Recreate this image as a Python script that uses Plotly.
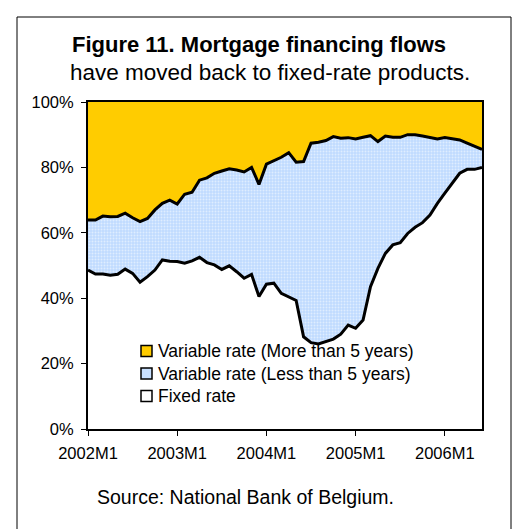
import plotly.graph_objects as go

# Monthly periods, 2002M1 .. 2006M6
periods = [f"{y}M{m}" for y in range(2002, 2007) for m in range(1, 13)][:54]

# Shares of new mortgage loans (%)
fixed_rate = [48.6, 47.4, 47.4, 47.0, 47.3, 48.9, 47.6, 44.9, 46.6, 48.6,
              51.7, 51.3, 51.2, 50.7, 51.4, 52.5, 50.9, 50.2, 48.8, 49.9,
              48.1, 46.1, 47.3, 40.5, 44.3, 44.6, 41.5, 40.5, 39.3, 28.2,
              26.4, 26.0, 26.7, 27.5, 29.0, 31.8, 30.8, 33.3, 43.5, 49.1,
              53.7, 56.3, 57.0, 59.8, 61.7, 63.1, 65.4, 69.0, 72.1, 75.1,
              78.2, 79.4, 79.4, 80.0]
var_short = [15.3, 16.5, 17.7, 17.9, 17.7, 17.1, 17.0, 18.5, 17.8, 18.4,
             17.3, 18.7, 17.6, 21.1, 21.0, 23.6, 25.9, 28.0, 30.1, 29.7,
             31.1, 32.5, 32.7, 34.3, 36.7, 37.4, 41.6, 44.0, 42.3, 53.6,
             61.0, 61.7, 61.5, 61.9, 59.9, 57.3, 57.9, 55.9, 46.2, 38.8,
             35.9, 32.9, 32.2, 30.2, 28.3, 26.5, 23.8, 19.7, 17.0, 13.7,
             10.2, 8.0, 7.1, 5.5]
var_long = [36.1, 36.1, 34.9, 35.1, 35.0, 34.0, 35.4, 36.6, 35.6, 33.0,
            31.0, 30.0, 31.2, 28.2, 27.6, 23.9, 23.2, 21.8, 21.1, 20.4,
            20.8, 21.4, 20.0, 25.2, 19.0, 18.0, 16.9, 15.5, 18.4, 18.2,
            12.6, 12.3, 11.8, 10.6, 11.1, 10.9, 11.3, 10.8, 10.3, 12.1,
            10.4, 10.8, 10.8, 10.0, 10.0, 10.4, 10.8, 11.3, 10.9, 11.2,
            11.6, 12.6, 13.5, 14.5]

tick_periods = ["2002M1", "2003M1", "2004M1", "2005M1", "2006M1"]
y_ticks = [0, 20, 40, 60, 80, 100]

legend_labels = ["Variable rate (More than 5 years)",
                 "Variable rate (Less than 5 years)",
                 "Fixed rate"]

YELLOW = "#FFCC00"
BLUE = "#C8E0FF"
FONT = "Arial, Liberation Sans, sans-serif"

W, H = 517, 529
L, R, T, B = 88, 482, 102, 429  # plot area in pixels


def px(x):
    return (x - L) / (R - L)


def py(y):
    return (B - y) / (B - T)


fig = go.Figure()
fig.add_trace(go.Scatter(
    x=periods, y=fixed_rate, stackgroup="s", name=legend_labels[2],
    mode="lines", line=dict(color="black", width=3),
    fillcolor="rgba(255,255,255,0)", showlegend=False))
fig.add_trace(go.Scatter(
    x=periods, y=var_short, stackgroup="s", name=legend_labels[1],
    mode="lines", line=dict(color="black", width=3),
    fillcolor=BLUE,
    fillpattern=dict(shape=".", bgcolor="#BFDBFF", fgcolor="white",
                     size=3, solidity=0.35),
    showlegend=False))
fig.add_trace(go.Scatter(
    x=periods, y=var_long, stackgroup="s", name=legend_labels[0],
    mode="lines", line=dict(color="black", width=0),
    fillcolor=YELLOW, showlegend=False))

shapes = [
    # outer frame
    dict(type="rect", xref="paper", yref="paper",
         x0=px(17), x1=px(511), y0=py(545), y1=py(17),
         line=dict(color="black", width=1), layer="below"),
]


def label(text, x, y, size, xanchor="center"):
    return dict(text=text, x=px(x), y=py(y), xref="paper", yref="paper",
                xanchor=xanchor, yanchor="middle", showarrow=False,
                font=dict(family=FONT, size=size, color="black"))


annotations = [
    label("<b>Figure 11. Mortgage financing flows</b>", 259, 45, 22),
    label("have moved back to fixed-rate products.", 270, 72, 22.5),
    label("Source: National Bank of Belgium.", 245, 497, 19.5),
]

# legend
legend_colors = [YELLOW, BLUE, "white"]
row_y = [351, 373.5, 396]
for lab, col, yy in zip(legend_labels, legend_colors, row_y):
    shapes.append(dict(type="rect", xref="paper", yref="paper",
                       x0=px(141), x1=px(152), y0=py(yy + 5.5), y1=py(yy - 5.5),
                       fillcolor=col, line=dict(color="black", width=1.5)))
    annotations.append(label(lab, 156, yy, 17.5, xanchor="left"))

fig.update_layout(
    width=W, height=H,
    margin=dict(l=L, r=W - R, t=T, b=H - B, pad=0),
    paper_bgcolor="white", plot_bgcolor="white",
    showlegend=False,
    shapes=shapes, annotations=annotations,
    font=dict(family=FONT, color="black"),
)
fig.update_xaxes(
    type="category", range=[0, len(periods) - 1],
    tickmode="array", tickvals=tick_periods, ticktext=tick_periods,
    ticks="outside", ticklen=5, tickcolor="black", tickwidth=1,
    showline=True, linecolor="black", linewidth=2, mirror=True,
    showgrid=False, zeroline=False,
    tickfont=dict(family=FONT, size=16.5, color="black"),
    ticklabelstandoff=3,
)
fig.update_yaxes(
    range=[0, 100], tickmode="array", tickvals=y_ticks,
    ticktext=[f"{v}%" for v in y_ticks],
    ticks="outside", ticklen=5, tickcolor="black", tickwidth=1,
    showline=True, linecolor="black", linewidth=2, mirror=True,
    showgrid=False, zeroline=False,
    tickfont=dict(family=FONT, size=16.5, color="black"),
    ticklabelstandoff=4,
)

fig.write_html("out.html")
